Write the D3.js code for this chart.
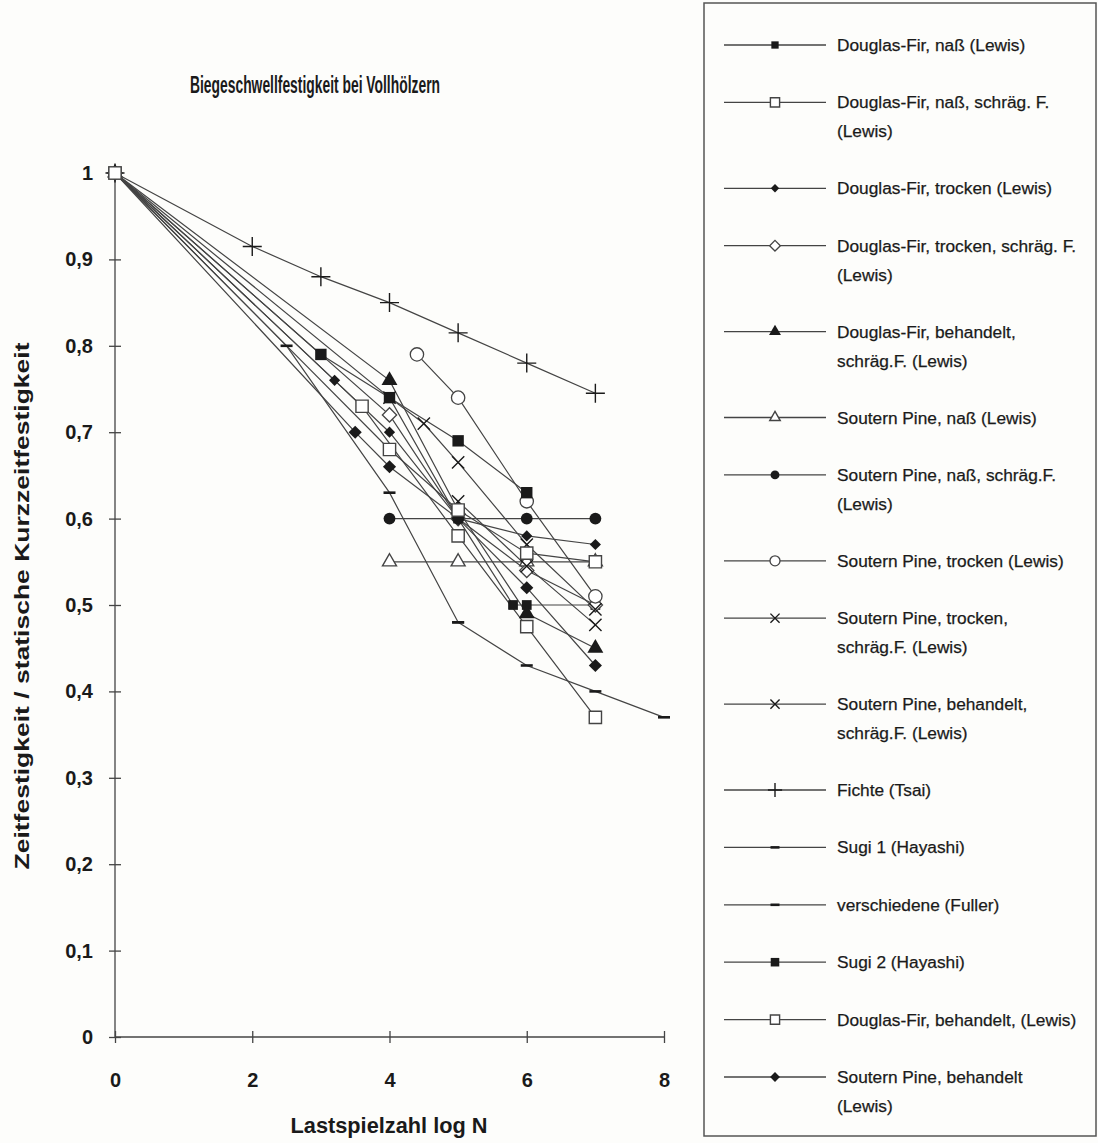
<!DOCTYPE html>
<html>
<head>
<meta charset="utf-8">
<script src="https://cdn.jsdelivr.net/npm/d3@7"></script>
<style>
  html, body { margin: 0; padding: 0; background: #fdfdfb; }
  svg { display: block; }
</style>
</head>
<body>
<svg id="chart" width="1098" height="1143"></svg>
<script>
// Biegeschwellfestigkeit – Zeitfestigkeit bezogen auf statische Kurzzeitfestigkeit
const chartTitle = "Biegeschwellfestigkeit bei Vollhölzern";
const xTitle = "Lastspielzahl log N";
const yTitle = "Zeitfestigkeit / statische Kurzzeitfestigkeit";

const xTicks = [0, 2, 4, 6, 8];
const xTickLabels = ["0", "2", "4", "6", "8"];
const yTicks = [0, 0.1, 0.2, 0.3, 0.4, 0.5, 0.6, 0.7, 0.8, 0.9, 1];
const yTickLabels = ["0", "0,1", "0,2", "0,3", "0,4", "0,5", "0,6", "0,7", "0,8", "0,9", "1"];

// series names (legend order)
const seriesNames = [
  ["Douglas-Fir, naß (Lewis)"],
  ["Douglas-Fir, naß, schräg. F.", "(Lewis)"],
  ["Douglas-Fir, trocken (Lewis)"],
  ["Douglas-Fir, trocken, schräg. F.", "(Lewis)"],
  ["Douglas-Fir, behandelt,", "schräg.F.  (Lewis)"],
  ["Soutern Pine, naß (Lewis)"],
  ["Soutern Pine, naß, schräg.F.", "(Lewis)"],
  ["Soutern Pine, trocken (Lewis)"],
  ["Soutern Pine, trocken,", "schräg.F. (Lewis)"],
  ["Soutern Pine, behandelt,", "schräg.F. (Lewis)"],
  ["Fichte (Tsai)"],
  ["Sugi 1 (Hayashi)"],
  ["verschiedene (Fuller)"],
  ["Sugi 2 (Hayashi)"],
  ["Douglas-Fir, behandelt, (Lewis)"],
  ["Soutern Pine, behandelt", "(Lewis)"]
];

const seriesMarkers = [
  "squareSmall", "squareOpen", "diamondSmall", "diamondOpen", "triangle",
  "triangleOpen", "circle", "circleOpen", "times", "times",
  "plus", "dash", "dash", "square", "squareOpen", "diamond"
];

// log N values and relative strengths per series
const logN = [
  [0, 4, 5, 5.8, 6, 7],
  [0, 3.6, 5, 6, 7],
  [0, 3.2, 4, 5, 6, 7],
  [0, 4, 5, 6, 7],
  [0, 4, 5, 6, 7],
  [4, 5, 6, 7],
  [4, 5, 6, 7],
  [4.4, 5, 6, 7],
  [4, 4.5, 5, 6, 7],
  [5, 6, 7],
  [0, 2, 3, 4, 5, 6, 7],
  [0, 2.5, 4, 5],
  [5, 6, 7, 8],
  [0, 3, 4, 5, 6],
  [0, 4, 5, 6, 7],
  [0, 3.5, 4, 5, 6, 7]
];
const strength = [
  [1, 0.74, 0.60, 0.50, 0.50, 0.50],
  [1, 0.73, 0.58, 0.475, 0.37],
  [1, 0.76, 0.70, 0.60, 0.58, 0.57],
  [1, 0.72, 0.60, 0.54, 0.50],
  [1, 0.76, 0.61, 0.49, 0.45],
  [0.55, 0.55, 0.55, 0.55],
  [0.60, 0.60, 0.60, 0.60],
  [0.79, 0.74, 0.62, 0.51],
  [0.74, 0.71, 0.665, 0.57, 0.495],
  [0.62, 0.545, 0.477],
  [1, 0.915, 0.88, 0.85, 0.815, 0.78, 0.745],
  [1, 0.80, 0.63, 0.48],
  [0.48, 0.43, 0.40, 0.37],
  [1, 0.79, 0.74, 0.69, 0.63],
  [1, 0.68, 0.61, 0.56, 0.55],
  [1, 0.70, 0.66, 0.60, 0.52, 0.43]
];

const ink = "#1a1a1a";
const lineInk = "#444";
const headFont = "'Liberation Sans', Arial, sans-serif";
const bodyFont = "'Liberation Sans', Arial, sans-serif";

const svg = d3.select("#chart");
const x = d3.scaleLinear().domain([0, 8]).range([115, 664]);
const y = d3.scaleLinear().domain([0, 1]).range([1037, 173]);

// marker drawing
function drawMarker(g, type, scale) {
  const s = scale || 1;
  const sym = (t, size) => d3.symbol().type(t).size(size * s * s)();
  switch (type) {
    case "square":
      g.append("path").attr("d", sym(d3.symbolSquare, 130)).attr("fill", ink); break;
    case "squareSmall":
      g.append("path").attr("d", sym(d3.symbolSquare, 95)).attr("fill", ink); break;
    case "squareOpen":
      g.append("path").attr("d", sym(d3.symbolSquare, 150)).attr("fill", "#fff").attr("stroke", lineInk).attr("stroke-width", 1.4); break;
    case "diamond":
      g.append("path").attr("d", sym(d3.symbolDiamond2, 110)).attr("fill", ink); break;
    case "diamondSmall":
      g.append("path").attr("d", sym(d3.symbolDiamond2, 80)).attr("fill", ink); break;
    case "diamondOpen":
      g.append("path").attr("d", sym(d3.symbolDiamond2, 130)).attr("fill", "#fff").attr("stroke", lineInk).attr("stroke-width", 1.3); break;
    case "triangle":
      g.append("path").attr("d", sym(d3.symbolTriangle, 110)).attr("fill", ink); break;
    case "triangleOpen":
      g.append("path").attr("d", sym(d3.symbolTriangle2, 140)).attr("fill", "#fff").attr("stroke", lineInk).attr("stroke-width", 1.4); break;
    case "circle":
      g.append("path").attr("d", sym(d3.symbolCircle, 110)).attr("fill", ink); break;
    case "circleOpen":
      g.append("path").attr("d", sym(d3.symbolCircle, 140)).attr("fill", "#fff").attr("stroke", lineInk).attr("stroke-width", 1.3); break;
    case "times":
      g.append("path").attr("d", sym(d3.symbolTimes, 100)).attr("fill", "none").attr("stroke", ink).attr("stroke-width", 1.4); break;
    case "plus":
      g.append("path").attr("d", sym(d3.symbolPlus, 120)).attr("fill", "none").attr("stroke", ink).attr("stroke-width", 1.4); break;
    case "dash":
      g.append("line").attr("x1", -6 * s).attr("x2", 6 * s).attr("y1", 0).attr("y2", 0)
        .attr("stroke", ink).attr("stroke-width", 2.6); break;
  }
}

const series = seriesNames.map((name, i) => ({
  name, marker: seriesMarkers[i],
  points: logN[i].map((v, j) => ({ x: v, y: strength[i][j] }))
}));

function boldText(sel, size, len) {
  return sel.attr("font-family", headFont).attr("font-weight", "bold").attr("font-size", size)
    .attr("fill", ink).attr("textLength", len).attr("lengthAdjust", "spacingAndGlyphs");
}

// title
boldText(svg.append("text").attr("x", 315).attr("y", 93).attr("text-anchor", "middle").text(chartTitle), 23, 250);

// axes
const yAxis = d3.axisLeft(y).tickValues(yTicks).tickSize(6)
  .tickFormat((d, i) => yTickLabels[i]);
const gy = svg.append("g").attr("transform", `translate(${x(0)},0)`).call(yAxis);
gy.select(".domain").attr("d", `M0,${y(1)}V${y(0)}`).attr("stroke", lineInk).attr("stroke-width", 1.3);
gy.selectAll(".tick line").attr("x1", -6).attr("x2", 6).attr("stroke", lineInk).attr("stroke-width", 1.3);
gy.selectAll(".tick text").attr("x", -22).attr("font-family", headFont).attr("font-weight", "bold")
  .attr("font-size", 20).attr("fill", ink);

const xAxis = d3.axisBottom(x).tickValues(xTicks).tickSize(6)
  .tickFormat((d, i) => xTickLabels[i]);
const gx = svg.append("g").attr("transform", `translate(0,${y(0)})`).call(xAxis);
gx.select(".domain").attr("d", `M${x(0)},0H${x(8)}`).attr("stroke", lineInk).attr("stroke-width", 1.5);
gx.selectAll(".tick line").attr("y1", -6).attr("y2", 6).attr("stroke", lineInk).attr("stroke-width", 1.3);
gx.selectAll(".tick text").attr("y", 36).attr("font-family", headFont).attr("font-weight", "bold")
  .attr("font-size", 20).attr("fill", ink);

boldText(svg.append("text").attr("x", 389).attr("y", 1133).attr("text-anchor", "middle").text(xTitle), 22, 197);
boldText(svg.append("text").attr("transform", "translate(29,606) rotate(-90)").attr("text-anchor", "middle").text(yTitle), 21, 527);

// lines
const line = d3.line().x(d => x(d.x)).y(d => y(d.y));
const plot = svg.append("g");
plot.selectAll("path.series").data(series).join("path").attr("class", "series")
  .attr("d", d => line(d.points)).attr("fill", "none")
  .attr("stroke", lineInk).attr("stroke-width", 1.2);

// markers – open-square series on top
const drawOrder = series.map((s, i) => i).sort((a, b) => (a === 14) - (b === 14));
drawOrder.forEach(i => {
  const s = series[i];
  s.points.forEach(p => {
    const g = plot.append("g").attr("transform", `translate(${x(p.x)},${y(p.y)})`);
    drawMarker(g, s.marker, 1);
  });
});

// legend
const lg = svg.append("g");
lg.append("rect").attr("x", 704).attr("y", 3).attr("width", 392).attr("height", 1133)
  .attr("fill", "none").attr("stroke", "#555").attr("stroke-width", 1.5);
let ly = 45;
series.forEach(s => {
  const g = lg.append("g").attr("transform", `translate(0,${ly})`);
  g.append("line").attr("x1", 724).attr("x2", 826).attr("y1", 0).attr("y2", 0)
    .attr("stroke", lineInk).attr("stroke-width", 1.3);
  const m = g.append("g").attr("transform", "translate(775,0)");
  drawMarker(m, s.marker, 0.75);
  s.name.forEach((t, k) => {
    g.append("text").attr("x", 837).attr("y", 6 + k * 29)
      .attr("font-family", bodyFont).attr("font-size", 17.3).attr("fill", ink)
      .attr("stroke", ink).attr("stroke-width", 0.25).text(t);
  });
  ly += 57.4 + (s.name.length - 1) * 28.5;
});
</script>
</body>
</html>
